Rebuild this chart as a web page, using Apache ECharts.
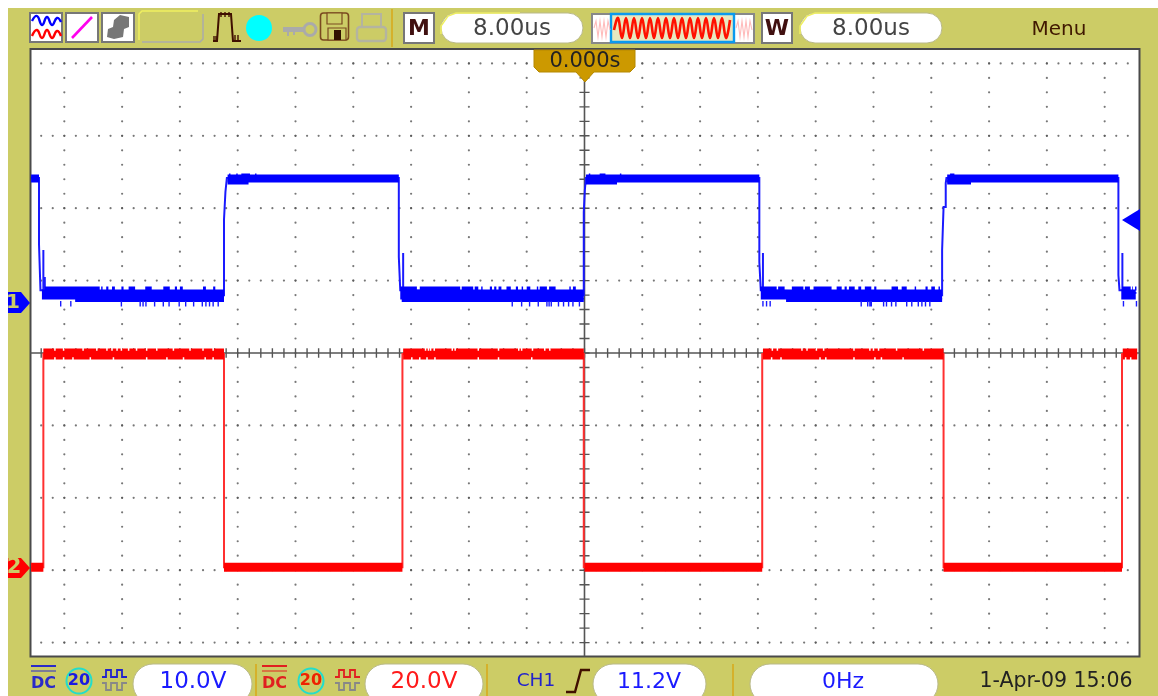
<!DOCTYPE html>
<html><head><meta charset="utf-8">
<style>html,body{margin:0;padding:0;background:#fff}#c{width:1158px;height:696px}</style>
<script src="https://cdn.jsdelivr.net/npm/echarts@6/dist/echarts.min.js"></script>
</head><body><div id="c"></div>
<script>
// ---- readings: time in microseconds, CH1 and CH2 in volts ----
const ch1Trace = [[-76.6,17.4],[-75.5,17.4],[-75.5,8.15],[-75.3,8.0],[-75.3,1.9],[-74.9,1.9],[-74.9,7.46],[-74.9,1.9],[-74.7,3.73],[-74.7,1.2],[-49.9,1.2],[-49.9,11.6],[-49.7,11.6],[-49.7,15.47],[-49.5,15.47],[-49.5,17.4],[-25.7,17.4],[-25.7,6.49],[-25.5,6.4],[-25.5,1.9],[-25.1,1.9],[-25.1,7.04],[-25.1,1.9],[-0.1,1.2],[-0.1,12.7],[0.05,12.7],[0.05,15.75],[0.2,15.75],[0.2,17.4],[24.2,17.4],[24.2,5.8],[24.4,5.8],[24.4,1.9],[24.7,1.9],[24.7,7.04],[24.7,1.9],[49.5,1.2],[49.5,7.46],[49.7,7.46],[49.7,13.4],[50.0,13.4],[50.0,16.7],[50.1,17.4],[73.9,17.4],[73.9,4.0],[74.05,4.0],[74.05,1.9],[74.45,1.9],[74.45,7.04],[74.45,1.9],[76.4,1.5]];
const ch1HighRuns = [[-76.6,-75.5],[-49.4,-25.7],[0.2,24.2],[50.2,73.9]];
const ch1HighOnsetRuns = [[-49.4,-46.5],[0.2,4.5],[50.2,53.5]];
const ch1HighCrestRuns = [[-49.2,-49.0],[-48.2,-48.0],[-47.5,-46.3],[-45.6,-45.4],[0.6,0.8],[2.1,2.9],[4.9,5.1],[50.6,51.2]];
const ch1LowRuns = [[-75.1,-49.9],[-25.5,-0.1],[24.4,49.5],[74.3,76.3]];
const ch1LowFillRuns = [[-70.5,-49.9],[-25.3,-0.1],[27.9,49.5]];
const ch1LowCrestRuns = [[-74.7,-67.1],[-66.9,-66.7],[-66.2,-65.9],[-65.4,-65.0],[-64.1,-63.8],[-63.1,-62.2],[-60.8,-59.9],[-58.3,-57.4],[-56.7,-56.4],[-56.0,-55.6],[-52.8,-52.4],[-51.4,-51.1],
  [-25.5,-23.2],[-22.8,-17.2],[-17.0,-15.4],[-15.2,-14.7],[-14.3,-14.1],[-13.1,-12.8],[-12.5,-12.2],[-11.9,-11.5],[-10.8,-10.2],[-9.5,-9.2],[-8.7,-8.5],[-8.0,-7.5],[-6.6,-6.4],[-6.2,-5.2],[-4.9,-4.0],[-2.1,-1.9],[-1.6,-1.2],
  [24.3,26.6],[26.8,27.7],[28.7,30.3],[30.5,31.2],[31.7,34.2],[34.9,35.6],[36.0,36.3],[36.6,37.4],[37.9,38.3],[38.8,39.7],[40.1,40.4],[42.5,43.4],[43.9,44.6],[45.7,45.9],[47.2,47.5],[48.0,48.5],[49.0,49.2],
  [74.4,75.6],[75.8,75.9],[76.2,76.4]];
const ch1DropTimes = [-72.5,-71.1,-64.1,-61.5,-61.1,-60.7,-59.5,-58.3,-57.5,-56.1,-55.2,-54.1,-52.9,-52.4,-51.9,-51.4,-50.7,
  -10.0,-8.7,-7.6,-6.4,-5.2,-4.9,-4.6,-3.6,-2.9,-2.2,-1.6,-0.7,
  24.7,25.2,25.7,38.3,39.2,39.5,39.7,41.4,41.8,42.5,43.1,44.6,45.3,46.2,46.7,47.2,47.8,
  74.6,76.4];
const ch1HighLevel = 17.33, ch1OnsetLevel = 16.85, ch1HighCrestLevel = 17.8;
const ch1LowLevel = 1.31, ch1LowFillLevel = 0.55, ch1LowCrestLevel = 2.14;
const ch1DropTop = 0.4, ch1DropBottom = -0.35;

const ch2Trace = [[-76.6,0.2],[-74.9,0.2],[-74.9,59.1],[-49.9,59.1],[-49.9,0.2],[-25.2,0.2],[-25.2,59.1],[-0.1,59.1],[-0.1,0.2],[24.6,0.2],[24.6,59.1],[49.7,59.1],[49.7,0.2],[74.4,0.2],[74.4,59.1],[76.5,59.1]];
const ch2HighRuns = [[-74.9,-49.9],[-25.1,-0.1],[24.7,49.7],[74.5,76.5]];
const ch2LowRuns = [[-76.6,-74.9],[-49.9,-25.2],[0,24.6],[49.7,74.4]];
const ch2TopNotches = [-73.3,-72.1,-69.4,-67.5,-66.1,-65.4,-64.7,-64.1,-63.1,-62.0,-60.6,-59.2,-56.9,-54.6,-52.8,-51.4,
  -22.0,-21.6,-21.3,-20.8,-18.3,-17.9,-14.7,-11.9,-9.1,-8.7,-7.2,-5.5,-4.8,
  26.0,26.7,30.1,30.8,32.1,33.1,37.3,39.5,40.0,40.7,43.2,46.9];
const ch2BottomNotches = [-73.3,-72.1,-70.8,-68.4,-65.2,-60.6,-57.8,-55.5,-52.5,-51.4,
  -23.9,-22.8,-21.8,-20.7,-14.7,-11.9,-7.3,
  25.9,27.2,32.6,33.4,37.3,40.2,41.1,44.1,74.9,75.6];
const ch2HighLevel = 59.1, ch2LowLevel = 0.2;
const readouts = {timeMain:'8.00us', timeWindow:'8.00us', cursor:'0.000s', ch1Scale:'10.0V', ch2Scale:'20.0V', trigSource:'CH1', trigLevel:'11.2V', freq:'0Hz', stamp:'1-Apr-09 15:06', menu:'Menu'};

// ---- helpers ----
const runs = (list, v) => list.flatMap(r => [[r[0], v], [r[1], v], [r[1], '-']]);
const spikes = (ts, a, b) => ts.flatMap(t => [[t, a], [t, b], [t, '-']]);
const usPerDiv = 8, minorX = 1.6, minorY = 0.2;
const ints = (a, b) => Array.from({length: b - a + 1}, (_, i) => a + i);
const gridDots = [];
ints(-4, 4).filter(j => j !== 0).forEach(j => ints(-47, 47).forEach(k => gridDots.push([k * minorX, j])));
ints(-9, 9).filter(m => m !== 0).forEach(m => ints(-20, 20).forEach(j => gridDots.push([m * usPerDiv, j * minorY])));
const xTicks = ints(-47, 47).flatMap(k => [[k * minorX, -0.065], [k * minorX, 0.065], [k * minorX, '-']]);
const yTicks = ints(-20, 20).flatMap(j => [[-0.7, j * minorY], [0.7, j * minorY], [0.7, '-']]);

const lineSeries = (name, data, yi, color, width, z) => ({
  name, type: 'line', data, yAxisIndex: yi, xAxisIndex: 0, showSymbol: false, symbol: 'none', silent: true,
  connectNulls: false, lineStyle: {color, width, cap: 'butt', join: 'miter'}, z, animation: false
});

const BLUE = '#0000ff', RED = '#ff0000';
const series = [
  {type: 'scatter', name: 'grid', data: gridDots, yAxisIndex: 0, symbolSize: 2.2, itemStyle: {color: '#555'}, silent: true, z: 1, animation: false},
  lineSeries('hAxis', [[-76.68, 0], [76.82, 0]], 0, '#555', 1.6, 2),
  lineSeries('vAxis', [[0, -4.192], [0, 4.199]], 0, '#555', 1.6, 2),
  lineSeries('hTicks', xTicks, 0, '#555', 1.4, 2),
  lineSeries('vTicks', yTicks, 0, '#555', 1.4, 2),
  lineSeries('CH2 trace', ch2Trace, 2, '#ff3030', 2, 3),
  lineSeries('CH2 high', runs(ch2HighRuns, ch2HighLevel), 2, RED, 11, 4),
  lineSeries('CH2 low', runs(ch2LowRuns, ch2LowLevel), 2, RED, 9, 4),
  lineSeries('CH2 top notches', spikes(ch2TopNotches, 61, 60), 2, '#fff', 1.5, 5),
  lineSeries('CH2 bottom notches', spikes(ch2BottomNotches, 57.2, 58.2), 2, '#fff', 1.5, 5),
  lineSeries('CH1 trace', ch1Trace, 1, '#1a1aff', 2, 6),
  lineSeries('CH1 high', runs(ch1HighRuns, ch1HighLevel), 1, BLUE, 8, 7),
  lineSeries('CH1 onset', runs(ch1HighOnsetRuns, ch1OnsetLevel), 1, BLUE, 5, 7),
  lineSeries('CH1 high crest', runs(ch1HighCrestRuns, ch1HighCrestLevel), 1, BLUE, 3, 7),
  lineSeries('CH1 low', runs(ch1LowRuns, ch1LowLevel), 1, BLUE, 10, 7),
  lineSeries('CH1 low fill', runs(ch1LowFillRuns, ch1LowFillLevel), 1, BLUE, 4, 7),
  lineSeries('CH1 low crest', runs(ch1LowCrestRuns, ch1LowCrestLevel), 1, BLUE, 4, 7),
  lineSeries('CH1 drops', spikes(ch1DropTimes, ch1DropTop, ch1DropBottom), 1, '#1a1aff', 1.4, 7)
];

// ---- instrument chrome ----
const OLIVE = '#cccc66', FONT = '"DejaVu Sans", sans-serif';
const g = [];
const rect = (x, y, w, h, fill, stroke, lw, r, z) => g.push({type: 'rect', shape: {x, y, width: w, height: h, r: r || 0}, style: {fill, stroke: stroke || null, lineWidth: lw || 0}, z: z === undefined ? 20 : z, silent: true});
const poly = (pts, stroke, lw, smooth, z) => g.push({type: 'polyline', shape: {points: pts, smooth: smooth || 0}, style: {stroke, lineWidth: lw, fill: null}, z: z || 21, silent: true});
const fillPoly = (pts, fill, stroke, z) => g.push({type: 'polygon', shape: {points: pts}, style: {fill, stroke: stroke || null, lineWidth: stroke ? 1 : 0}, z: z || 21, silent: true});
const text = (s, x, y, size, color, weight, align, z) => g.push({type: 'text', x, y, style: {text: s, font: (weight || 'normal') + ' ' + size + 'px ' + FONT, fill: color, align: align || 'center', verticalAlign: 'middle'}, z: z || 22, silent: true});
const circle = (x, y, r, fill, stroke, lw) => g.push({type: 'circle', shape: {cx: x, cy: y, r}, style: {fill, stroke: stroke || null, lineWidth: lw || 0}, z: 21, silent: true});
const pill = (x, y, w, h) => { rect(x, y, w, h, '#fff', '#b9b98a', 1, h / 2); };

rect(8, 8, 1150, 688, OLIVE, null, 0, 0, -1);
// left toolbar
[[30,13],[66,13],[102,13]].forEach(p => rect(p[0], p[1], 32, 29, '#fff', '#777', 2));
poly([[32,21],[37,16],[42,25],[47,17],[52,25],[57,18],[61,22]], '#0000ff', 2.4, 0.5);
poly([[32,36],[37,30],[42,38],[47,30],[52,38],[57,31],[61,36]], '#ff0000', 2.4, 0.5);
poly([[72,38],[92,17]], '#ff00ee', 2.6);
fillPoly([[107,37],[108,29],[113,27],[114,20],[120,15],[129,17],[129,27],[124,29],[123,37],[114,39]], '#777');
rect(139, 11, 64, 31, OLIVE, null, 0, 5);
poly([[139,40],[139,14],[142,11],[198,11]], '#efef60', 1.5);
poly([[142,42],[200,42],[203,39],[203,14]], '#aaa', 1.5);
poly([[213,41],[217,41],[219,14],[231,14],[233,41],[241,41]], '#401000', 2);
[[214,36,41],[216,36,41],[221,12,17],[225,12,17],[229,12,17],[235,35,41],[238,35,41]].forEach(t => poly([[t[0],t[1]],[t[0],t[2]]], '#401000', 1.4));
circle(259, 28, 13, '#00ffff');
rect(283, 27, 22, 5, '#aaa');
circle(310, 29.5, 6, null, '#aaa', 3);
[[288,32,36],[294,32,35]].forEach(t => poly([[t[0],t[1]],[t[0],t[2]]], '#aaa', 2));
rect(320.5, 13, 28, 27, OLIVE, '#7a4a20', 1.6, 3);
rect(327, 13, 15, 11, OLIVE, '#7a4a20', 1.2);
rect(328, 28, 18, 12, OLIVE, '#7a4a20', 1.2);
rect(334, 30, 7, 10, '#301000');
rect(362, 14, 19, 15, OLIVE, '#b4b4a0', 2);
rect(357, 27, 29, 14, OLIVE, '#b4b4a0', 2.4, 3);
poly([[392,9],[392,47]], '#d8a818', 1.5);
// timebase
rect(404, 13, 30, 30, '#fff', '#777', 2);
text('M', 419, 29, 22, '#401010', 'bold');
pill(441, 13, 142, 30);
poly([[441,34],[441,26],[448,16],[456,13],[520,13]], '#efef60', 1.5);
text(readouts.timeMain, 512, 29, 23, '#444');
rect(592, 14, 162, 29, '#fff', '#888', 2);
poly([[594,28],[596,21],[598,37],[600,21],[602,37],[604,21],[606,37],[608,21],[610,30]], '#ffbbbb', 1.1);
poly([[736,28],[738,21],[740,37],[742,21],[744,37],[746,21],[748,37],[750,21],[752,30]], '#ffbbbb', 1.1);
rect(611, 14, 123, 28, '#e8e8c0', '#0a9aee', 2.4);
poly([[614,30],[618,18],[622,38],[626,18],[630,38],[634,18],[638,38],[642,18],[646,38],[650,18],[654,38],[658,18],[662,38],[666,18],[670,38],[674,18],[678,38],[682,18],[686,38],[690,18],[694,38],[698,18],[702,38],[706,18],[710,38],[714,18],[718,38],[722,18],[726,38],[730,20]], '#ff1100', 2.6, 0.4);
rect(762, 13, 30, 30, '#fff', '#777', 2);
text('W', 777, 29, 22, '#401010', 'bold');
pill(800, 13, 142, 30);
poly([[800,34],[800,26],[807,16],[815,13],[880,13]], '#efef60', 1.5);
text(readouts.timeWindow, 871, 29, 23, '#444');
text(readouts.menu, 1059, 30, 20, '#401800');
// cursor flag
fillPoly([[534,50],[635,50],[635,67],[630,72],[594,72],[585,82],[576,72],[539,72],[534,67]], '#cc9900', '#b58800', 23);
text(readouts.cursor, 585, 62, 21, '#222', 'normal', 'center', 24);
// channel ground markers and trigger level marker
fillPoly([[8,292],[21,292],[30,303],[21,313],[8,313]], '#0000ff', null, 23);
text('1', 13, 303, 20, OLIVE, 'bold', 'center', 24);
fillPoly([[8,558],[21,558],[30,568],[21,578],[8,578]], '#ff0000', null, 23);
text('2', 14, 568, 21, OLIVE, 'bold', 'center', 24);
fillPoly([[1122,220],[1140,209],[1140,231]], '#0000ff', null, 23);
// bottom status bar
const dc = (x, c) => {
  rect(x, 665, 25, 2, c);
  poly([[x,671],[x+25,671]], c, 1);
  text('DC', x + 12.5, 684, 16, c, 'bold');
};
const bw = (x, c) => { circle(x, 681, 12.5, null, '#22ddcc', 2); text('20', x, 681, 16, c, 'bold'); };
const wave = (x, c) => {
  poly([[x,677],[x+4,677],[x+4,670],[x+9,670],[x+9,677],[x+15,677],[x+15,670],[x+20,670],[x+20,677],[x+25,677]], c, 1.8);
  poly([[x,683],[x+4,683],[x+4,690],[x+9,690],[x+9,683],[x+15,683],[x+15,690],[x+20,690],[x+20,683],[x+25,683]], '#888', 1.8);
};
dc(31, '#2a2ac8'); bw(79, '#1a1ae0'); wave(102, '#2222cc');
pill(133, 664, 119, 40);
text(readouts.ch1Scale, 193, 682, 23, '#1a1aff');
poly([[256,664],[256,696]], '#d8a818', 1.5);
dc(262, '#e02020'); bw(311, '#ee2200'); wave(335, '#e02020');
pill(365, 664, 118, 40);
text(readouts.ch2Scale, 424, 682, 23, '#ff1a1a');
poly([[487,664],[487,696]], '#d8a818', 1.5);
text(readouts.trigSource, 536, 681, 18.5, '#2222cc');
poly([[566,692],[575,692],[581,670],[590,670]], '#401000', 2.4);
pill(593, 664, 113, 40);
text(readouts.trigLevel, 649, 682, 22, '#1a1aff');
poly([[733,664],[733,696]], '#d8a818', 1.5);
pill(750, 664, 188, 40);
text(readouts.freq, 843, 682, 22, '#1a1aff');
text(readouts.stamp, 1056, 682, 20.5, '#222');

const hiddenAxis = (min, max) => ({type: 'value', min, max, show: false, scale: true});
echarts.init(document.getElementById('c'), null, {renderer: 'canvas'}).setOption({
  animation: false,
  backgroundColor: '#fff',
  grid: {left: 30.5, right: 18.5, top: 49, bottom: 39.5, show: true, backgroundColor: '#fff', borderColor: '#4a4a4a', borderWidth: 2, containLabel: false},
  xAxis: {type: 'value', min: -76.68, max: 76.82, show: false},
  yAxis: [hiddenAxis(-4.192, 4.199), hiddenAxis(-48.69, 35.22), hiddenAxis(-24.45, 143.37)],
  tooltip: {show: false},
  legend: {show: false},
  series,
  graphic: {elements: g}
});
</script></body></html>
